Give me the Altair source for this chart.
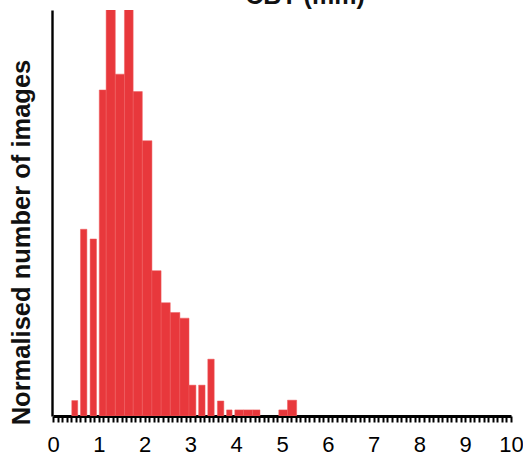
import altair as alt
import pandas as pd

# Histogram bars (data units of CBT in mm)
bar_start = [0.41, 0.60, 0.81, 1.01, 1.16, 1.36, 1.56, 1.75, 1.95, 2.16, 2.36, 2.56,
             2.77, 2.97, 3.18, 3.38, 3.59, 3.79, 3.97, 4.16, 4.36, 4.93, 5.12]
bar_end = [0.54, 0.74, 0.95, 1.16, 1.36, 1.56, 1.75, 1.95, 2.16, 2.36, 2.56, 2.77,
           2.97, 3.12, 3.32, 3.52, 3.73, 3.91, 4.16, 4.36, 4.52, 5.12, 5.32]
norm_count = [0.038, 0.460, 0.436, 0.803, 1.2, 0.842, 1.2, 0.799, 0.678, 0.358, 0.279,
              0.255, 0.241, 0.076, 0.076, 0.140, 0.037, 0.015, 0.015, 0.015, 0.015,
              0.015, 0.039]

tick_values = [round(k / 10, 1) for k in range(0, 101)]
top_title = ["CBT (mm)"]
y_title = "Normalised number of images"

df = pd.DataFrame({"start": bar_start, "end": bar_end, "count": norm_count})

bars = alt.Chart(df).mark_bar(
    clip=True, color="#e8383c", stroke="#ef5d5f", strokeWidth=0.5
).encode(
    x=alt.X(
        "start:Q",
        scale=alt.Scale(domain=[0, 10], nice=False, zero=False),
        axis=alt.Axis(
            values=tick_values,
            labelExpr="abs(datum.value - round(datum.value)) < 0.001 ? format(datum.value, 'd') : ''",
            labelOverlap=False,
            labelBound=False,
            labelFlush=False,
            labelFont="Liberation Sans",
            labelFontSize=22,
            labelColor="#000000",
            labelPadding=12,
            tickSize=6,
            tickWidth=2,
            tickColor="#000000",
            domainColor="#000000",
            domainWidth=2.8,
            grid=False,
            title=None,
        ),
    ),
    x2="end:Q",
    y=alt.Y(
        "count:Q",
        scale=alt.Scale(domain=[0, 1], nice=False),
        axis=alt.Axis(
            labels=False,
            ticks=False,
            grid=False,
            domainColor="#000000",
            domainWidth=2.4,
            offset=1,
            title=y_title,
            titleFont="Liberation Sans",
            titleFontSize=25.5,
            titleFontWeight="bold",
            titleColor="#111111",
            titleAngle=-90,
            titleAlign="center",
            titleBaseline="alphabetic",
            titleX=-23,
            titleY=232,
        ),
    ),
    y2=alt.datum(0),
)

title_text = alt.Chart(pd.DataFrame({"t": top_title})).mark_text(
    font="Liberation Sans", fontSize=25, fontWeight="bold", color="#111111",
    align="center", baseline="alphabetic"
).encode(
    text="t:N",
    x=alt.value(252),
    y=alt.value(-6),
)

chart = alt.layer(bars, title_text).properties(
    width=458,
    height=406,
    autosize=alt.AutoSizeParams(type="none"),
    padding={"left": 53, "top": 10, "right": 12, "bottom": 41},
    background="white",
).configure_view(stroke=None)

chart.save("out.html", embed_options={"renderer": "svg", "actions": False})
